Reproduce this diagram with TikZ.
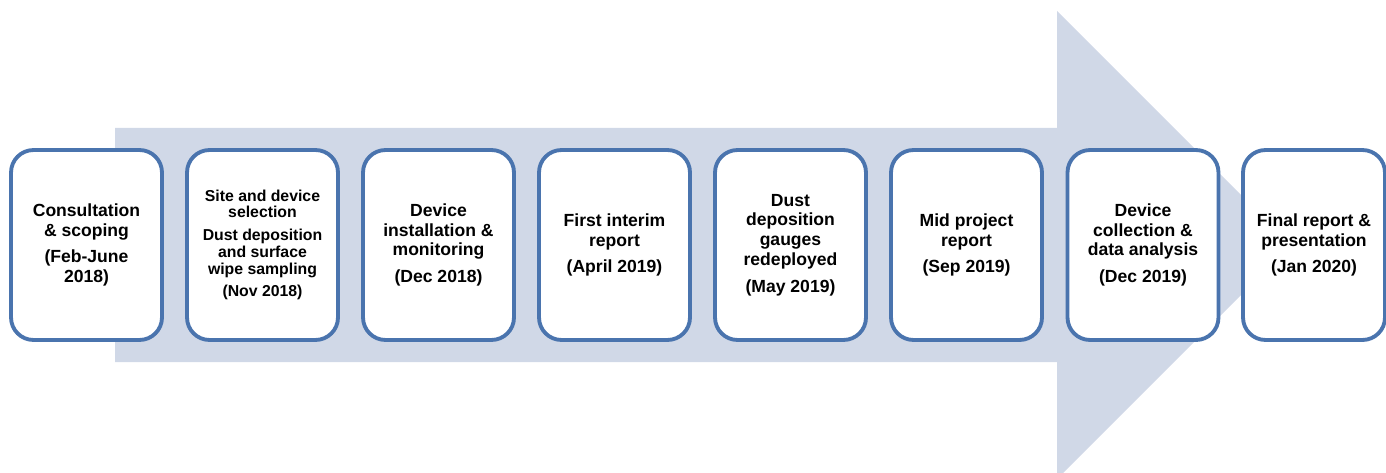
\documentclass[tikz,border=0pt]{standalone}
\usepackage{fontspec}
\setmainfont{Liberation Sans}
\definecolor{arrowfill}{HTML}{D0D8E7}
\definecolor{boxline}{HTML}{4A74AE}
\begin{document}
\begin{tikzpicture}[x=0.02cm,y=-0.02cm,
  stage/.style={draw=boxline,fill=white,line width=2.2pt,rounded corners=0.45cm,
    minimum width=3.02cm,minimum height=3.8cm,align=center,
    font=\bfseries\fontsize{10}{11.3}\selectfont,inner sep=2pt}]
\useasboundingbox (0,0) rectangle (1386,473);
% big background arrow
\fill [arrowfill] (115,128) -- (1057,128) -- (1057,11) -- (1291,245)
  -- (1057,479) -- (1057,362) -- (115,362) -- cycle;
% stages
\node [stage](S1) at (86.5,245) {Consultation\\ \& scoping\\[4pt] (Feb-June\\ 2018)};
\node [stage,font=\bfseries\fontsize{9}{9.5}\selectfont](S2) at (262.5,245)
  {Site and device\\ selection\\[3.5pt] Dust deposition\\ and surface\\ wipe sampling\\[3.5pt] (Nov 2018)};
\node [stage](S3) at (438.5,245) {Device\\ installation \&\\ monitoring\\[4pt] (Dec 2018)};
\node [stage](S4) at (614.5,245) {First interim\\ report\\[4pt] (April 2019)};
\node [stage](S5) at (790.5,245) {Dust\\ deposition\\ gauges\\ redeployed\\[4pt] (May 2019)};
\node [stage](S6) at (966.5,245) {Mid project\\ report\\[4pt] (Sep 2019)};
\node [stage](S7) at (1143,245) {Device\\ collection \&\\ data analysis\\[4pt] (Dec 2019)};
\node [stage,minimum width=2.84cm](S8) at (1314,245) {Final report \&\\ presentation\\[4pt] (Jan 2020)};
\end{tikzpicture}
\end{document}
